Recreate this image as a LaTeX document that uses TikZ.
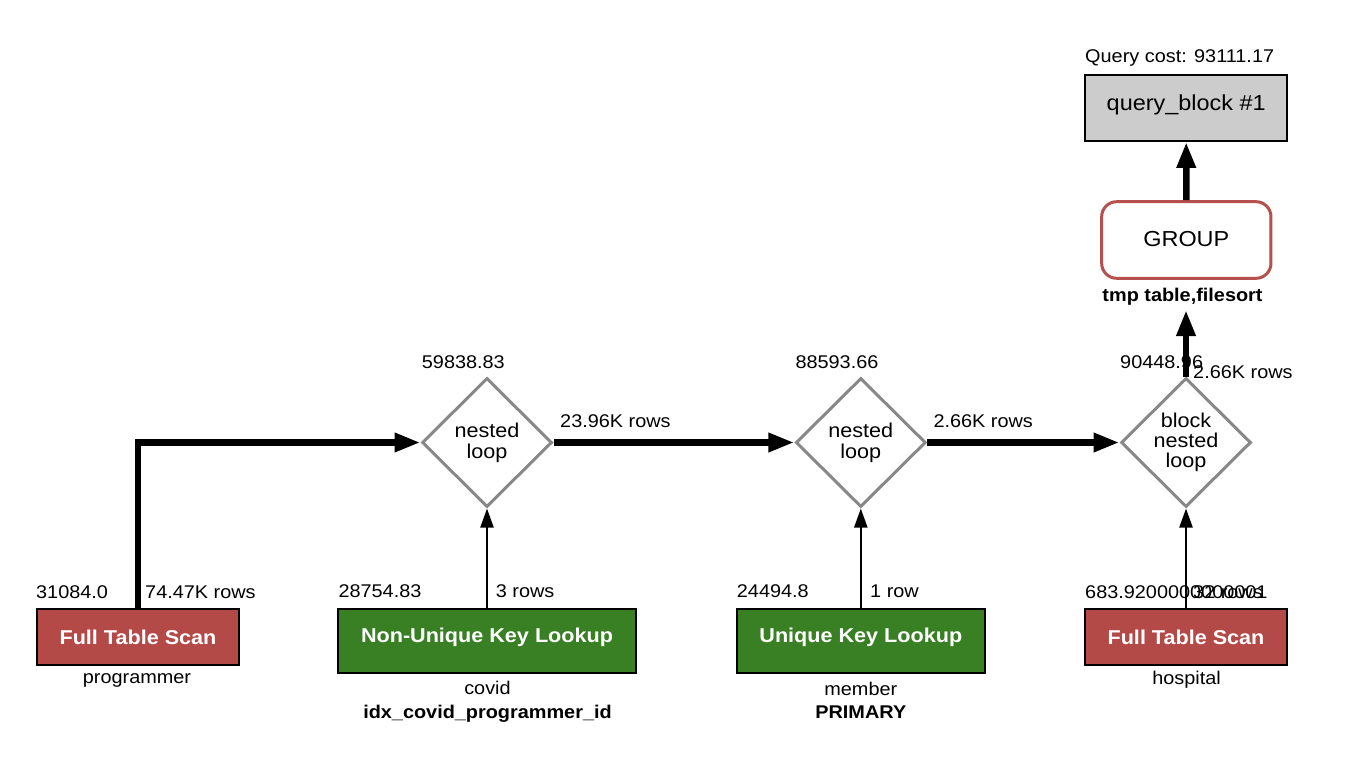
\documentclass[tikz,border=0pt]{standalone}
\usepackage{fontspec}
\setmainfont{Liberation Sans}[FakeStretch=1.08]
\usetikzlibrary{arrows.meta,shapes.geometric}

\definecolor{scanred}{RGB}{180,74,72}
\definecolor{lookgreen}{RGB}{56,128,35}
\definecolor{groupred}{RGB}{181,80,78}
\definecolor{blockgray}{RGB}{204,204,204}
\definecolor{joingray}{RGB}{136,136,136}

\begin{document}
\begin{tikzpicture}[x=1pt,y=-1pt,
  lbl/.style={font=\fontsize{18.4}{22}\selectfont, inner sep=0, anchor=base west},
  lblc/.style={lbl, anchor=base},
  blbl/.style={lblc, font=\bfseries\fontsize{18.4}{22}\selectfont},
  opbox/.style={draw=black, line width=2.2pt, inner sep=0, text=white,
                font=\bfseries\fontsize{20}{24}\selectfont},
  scan/.style={opbox, fill=scanred, minimum width=202pt, minimum height=56pt,
               text height=14pt, text depth=0pt},
  lookup/.style={opbox, fill=lookgreen, minimum height=63.4pt,
                 text height=14pt, text depth=12pt},
  joinop/.style={diamond, draw=joingray, line width=3pt, fill=white,
                 minimum width=130pt, minimum height=129pt, inner sep=0},
  jtext/.style={align=center, inner sep=0, font=\fontsize{20}{21}\selectfont},
  heavy/.style={line width=6.5pt, -{Triangle[length=26pt,width=18pt]}},
  light/.style={line width=2.2pt, -{Triangle[length=19pt,width=13pt]}}]

\useasboundingbox (0,0) rectangle (1364,762);

% query block and grouping step
\node[lbl] (qcost) at (1085,63) {Query cost: 93111.17};
\node[draw=black, line width=2.2pt, fill=blockgray, inner sep=0,
      minimum width=202.3pt, minimum height=65.7pt,
      font=\fontsize{21.7}{26}\selectfont, text height=16pt, text depth=10pt]
      (qb) at (1186.2,108) {query\_block \#1};
\node[draw=groupred, line width=3pt, rounded corners=15pt, fill=white, inner sep=0,
      minimum width=169.3pt, minimum height=76.6pt,
      font=\fontsize{21.7}{26}\selectfont, text height=15.5pt, text depth=2.1pt]
      (grp) at (1186.3,240) {GROUP};
\node[blbl] (grpnote) at (1182.5,301) {tmp table,filesort};
\coordinate (grpin) at (1186,310);

% join operators
\node[joinop] (d1) at (487,442.5) {};
\node[jtext] (d1t) at (d1.center) {nested\\loop};
\node[lbl] (d1cost) at (421.7,368) {59838.83};
\node[lbl] (d1rows) at (560,427) {23.96K rows};

\node[joinop] (d2) at (860.8,442.5) {};
\node[jtext] (d2t) at (d2.center) {nested\\loop};
\node[lbl] (d2cost) at (795.3,368) {88593.66};
\node[lbl] (d2rows) at (933.3,427) {2.66K rows};

\node[joinop] (d3) at (1186,442.5) {};
\node[jtext, font=\fontsize{20}{20.3}\selectfont] (d3t) at (d3.center) {block\\nested\\loop};
\node[lbl] (d3cost) at (1120,368) {90448.96};
\node[lbl] (d3rows) at (1193,378) {2.66K rows};

% table access operations
\node[scan] (fts1) at (138,637) {Full Table Scan};
\node[lbl] (fts1cost) at (36,598) {31084.0};
\node[lbl] (fts1rows) at (145,598) {74.47K rows};
\node[lblc] (fts1tab) at (137,683) {programmer};

\node[lookup, minimum width=298.4pt] (nukl) at (487,641) {Non-Unique Key Lookup};
\node[lbl] (nuklcost) at (338.3,597.5) {28754.83};
\node[lbl] (nuklrows) at (495.7,597.5) {3 rows};
\node[lblc] (nukltab) at (487.5,694) {covid};
\node[blbl] (nuklkey) at (487.5,718) {idx\_covid\_programmer\_id};

\node[lookup, minimum width=248.3pt] (ukl) at (860.8,641) {Unique Key Lookup};
\node[lbl] (uklcost) at (736.7,597.5) {24494.8};
\node[lbl] (uklrows) at (870,597.5) {1 row};
\node[lblc] (ukltab) at (860.8,695) {member};
\node[blbl] (uklkey) at (860.8,718) {PRIMARY};

\node[scan] (fts2) at (1186,637) {Full Table Scan};
\node[lbl] (fts2cost) at (1085,598) {683.9200000000001};
\node[lbl] (fts2rows) at (1193,598) {32 rows};
\node[lblc] (fts2tab) at (1186.5,684) {hospital};

% data flow
\draw[heavy, line join=miter] (fts1.north) |- (d1.west);
\draw[light] (nukl.north) -- (d1.south);
\draw[heavy] (d1.east) -- (d2.west);
\draw[light] (ukl.north) -- (d2.south);
\draw[heavy] (d2.east) -- (d3.west);
\draw[light] (fts2.north) -- (d3.south);
\draw[heavy] (d3.north) -- (grpin);
\draw[heavy] (grp.north) -- (qb.south);
\end{tikzpicture}
\end{document}
